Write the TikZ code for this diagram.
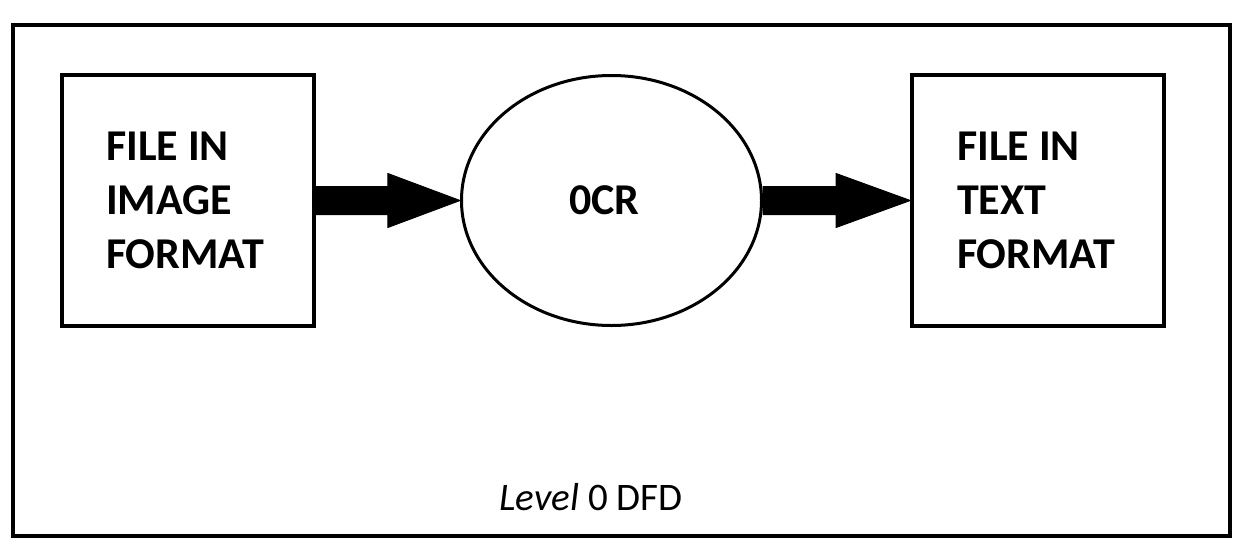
\documentclass[tikz,border=0pt]{standalone}
\usepackage{fontspec}
\setmainfont{Carlito}
\usetikzlibrary{shapes.geometric,calc}
\tikzset{
  procbox/.style={draw, line width=3.5pt, minimum width=252pt, minimum height=251pt, align=left, font=\fontsize{44}{54}\selectfont\bfseries, inner sep=0pt},
  procell/.style={draw, ellipse, line width=3pt, minimum width=300pt, minimum height=250pt, font=\fontsize{44}{54}\selectfont\bfseries, inner sep=0pt},
  blockarrow/.style={fill=black, draw=black, line width=1pt, line join=round}
}
\begin{document}
\begin{tikzpicture}[x=1pt,y=-1pt]
\useasboundingbox (0,0) rectangle (1245,552);
\draw[line width=4.5pt] (13,25) rectangle (1230,536);
\node[procbox] (L) at (188,200.5) {\hspace*{-6pt}FILE IN\\\hspace*{-6pt}IMAGE\\\hspace*{-6pt}FORMAT};
\node[procbox] (R) at (1038,200.5) {\hspace*{-4pt}FILE IN\\\hspace*{-4pt}TEXT\\\hspace*{-4pt}FORMAT};
\node[procell] (O) at (611.5,200.5) {\hspace*{-14pt}0CR};
\fill[blockarrow] ($(L.east)+(-1,-14)$) -- ($(L.east)+(72,-14)$) -- ($(L.east)+(72,-27)$) -- (O.west) -- ($(L.east)+(72,27)$) -- ($(L.east)+(72,14)$) -- ($(L.east)+(-1,14)$) -- cycle;
\fill[blockarrow] ($(O.east)+(0,-14)$) -- ($(O.east)+(73,-14)$) -- ($(O.east)+(73,-27)$) -- (R.west) -- ($(O.east)+(73,27)$) -- ($(O.east)+(73,14)$) -- ($(O.east)+(0,14)$) -- cycle;
\node[font=\fontsize{39}{46}\selectfont, anchor=base] (lbl) at (591,510) {\textit{Level} 0 DFD};
\end{tikzpicture}
\end{document}
